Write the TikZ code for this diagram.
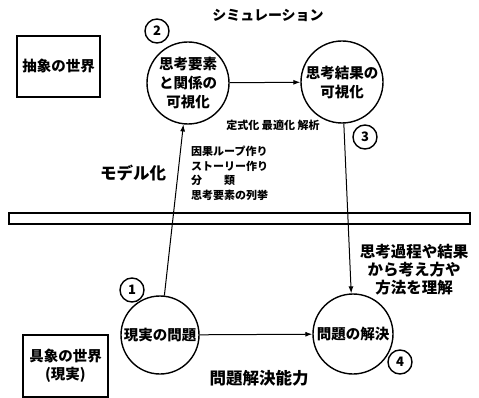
\documentclass[tikz,border=0pt]{standalone}
\usepackage{fontspec}
\setmainfont{Noto Sans CJK JP}[BoldFont={Noto Sans CJK JP Black}]
\usetikzlibrary{arrows.meta}
\begin{document}
\begin{tikzpicture}[x=1pt,y=-1pt,
  every node/.style={font=\bfseries},
  bigc/.style={circle,draw,line width=1.4pt,inner sep=0pt,align=center,
    font=\bfseries\fontsize{14.5}{19}\selectfont},
  numc/.style={circle,draw,line width=1.4pt,minimum size=24pt,inner sep=0pt,
    font=\bfseries\fontsize{13}{13}\selectfont},
  worldbox/.style={draw,line width=1.4pt,inner sep=0pt,align=center,
    font=\bfseries\fontsize{14.5}{18}\selectfont},
  link/.style={line width=1pt,-{Latex[length=7pt,width=5pt]}},
  lbl/.style={inner sep=0pt,align=center}]
\useasboundingbox (0,0) rectangle (479,398);

% world boxes
\node[worldbox,minimum width=83pt,minimum height=61pt] (abs) at (58.5,66.5) {抽象の世界};
\node[worldbox,minimum width=85pt,minimum height=62pt] (con) at (65.5,366) {具象の世界\\(現実)};

% separator bar
\draw[line width=1.4pt] (9,213) rectangle (470,224);

% main circles
\node[bigc,minimum size=82pt] (c2) at (188,83) {思考要素\\と関係の\\可視化};
\node[bigc,minimum size=82pt] (c3) at (342,82) {思考結果の\\可視化};
\node[bigc,minimum size=78pt] (c1) at (160,335) {現実の問題};
\node[bigc,minimum size=80pt] (c4) at (353,334) {問題の解決};

% numbers
\node[numc] (n2) at (157,31) {2};
\node[numc] (n3) at (365,137) {3};
\node[numc] (n1) at (132,290) {1};
\node[numc] (n4) at (400,362) {4};

% connectors
\draw[link] (c1) -- (c2);
\draw[link] (c2) -- (c3);
\draw[link] (c3) -- (c4);
\draw[link] (c1) -- (c4);

% labels
\node[lbl,font=\bfseries\fontsize{14}{16}\selectfont] (sim) at (268,15) {シミュレーション};
\node[lbl,font=\bfseries\fontsize{16.5}{18}\selectfont] (model) at (133,173) {モデル化};
\node[lbl,font=\bfseries\fontsize{11}{13}\selectfont] (form) at (273,125) {定式化\ 最適化\ 解析};
\node[lbl,align=left,anchor=north west,font=\bfseries\fontsize{11}{14.5}\selectfont] (list) at (191,146)
  {因果ループ作り\\ストーリー作り\\分\hspace{2em}類\\思考要素の列挙};
\node[lbl,font=\bfseries\fontsize{15.5}{18}\selectfont] (und) at (414,270) {思考過程や結果\\から考え方や\\方法を理解};
\node[lbl,font=\bfseries\fontsize{16.5}{18}\selectfont] (abil) at (259,378) {問題解決能力};
\end{tikzpicture}
\end{document}
